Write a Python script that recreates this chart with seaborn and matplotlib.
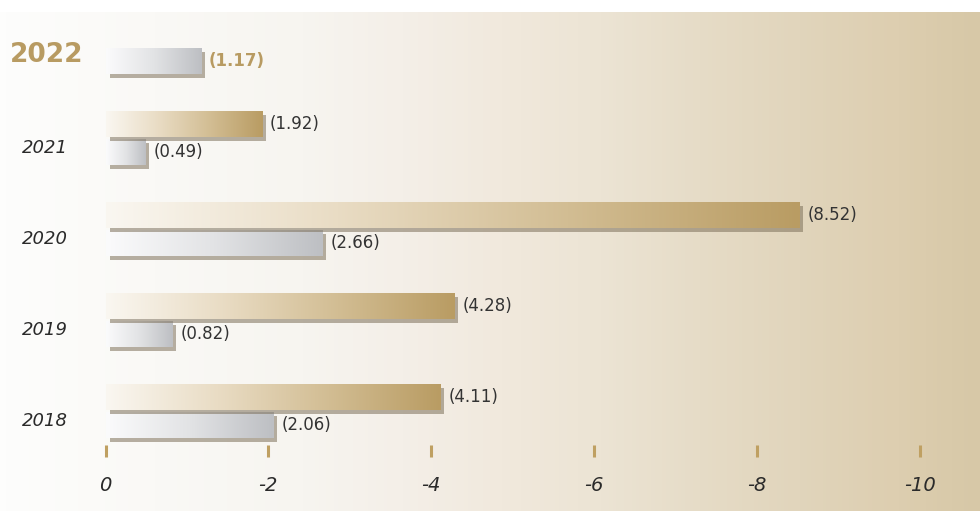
import numpy as np
import pandas as pd
import seaborn as sns
import matplotlib.pyplot as plt
from matplotlib.colors import LinearSegmentedColormap
from matplotlib.patches import Rectangle
from matplotlib.transforms import ScaledTranslation

# data (values shown as negatives, labels in brackets)
years = ['2022', '2021', '2020', '2019', '2018']
gold_vals = [np.nan, -1.92, -8.52, -4.28, -4.11]
grey_vals = [-1.17, -0.49, -2.66, -0.82, -2.06]
tick_vals = [0, -2, -4, -6, -8, -10]
tick_labels = ['0', '-2', '-4', '-6', '-8', '-10']

df = pd.DataFrame({
    'year': years * 2,
    'value': gold_vals + grey_vals,
    'series': ['gold'] * len(years) + ['grey'] * len(years),
})

sns.set_style('white')
plt.rcParams['font.family'] = ['DejaVu Sans']

GOLD = '#b89b62'
bg_cmap = LinearSegmentedColormap.from_list('bg', [
    (0.0, '#fdfdfc'), (0.306, '#f7f5f0'), (0.408, '#f4efe8'), (0.51, '#f1e9dd'),
    (0.612, '#ece4d4'), (0.714, '#e6dcc7'), (0.816, '#e1d5bc'), (0.918, '#ddceb0'),
    (1.0, '#d7c8a7')])
gold_cmap = LinearSegmentedColormap.from_list('gold', ['#faf7f1', '#e9dcc4', '#d2bd93', '#b99c63'])
grey_cmap = LinearSegmentedColormap.from_list('grey', ['#fbfbfc', '#e2e3e5', '#bdbfc3'])

fig = plt.figure(figsize=(9.8, 5.11), dpi=100)
fig.patch.set_facecolor('white')

# background gradient
bg = fig.add_axes([0, 0, 1, 499 / 511])
bg.imshow(np.linspace(0, 1, 256).reshape(1, -1), cmap=bg_cmap, aspect='auto',
          extent=(0, 1, 0, 1), interpolation='bicubic')
bg.axis('off')

ax = fig.add_axes([0, 54 / 511, 1, 457 / 511])
ax.patch.set_alpha(0)

sns.barplot(data=df, x='value', y='year', hue='series', orient='h', order=years,
            hue_order=['gold', 'grey'], palette=['#cccccc', '#cccccc'],
            width=0.6, gap=0.05, legend=False, ax=ax)

shadow_tr = ax.transData + ScaledTranslation(0.04, -0.04, fig.dpi_scale_trans)
cmaps = [gold_cmap, grey_cmap]
zbase = [4, 2]
grad = np.linspace(0, 1, 256).reshape(1, -1)
for i, cont in enumerate(ax.containers):
    for p in cont:
        x0, y0, w, h = p.get_x(), p.get_y(), p.get_width(), p.get_height()
        p.set_facecolor('none')
        p.set_edgecolor('none')
        if np.isnan(w) or w == 0:
            continue
        sh = Rectangle((x0, y0), w, h, transform=shadow_tr, facecolor='#7d705a',
                       alpha=0.55, edgecolor='none', zorder=zbase[i])
        ax.add_patch(sh)
        ax.imshow(grad, cmap=cmaps[i], aspect='auto', extent=(x0, x0 + w, y0 + h, y0),
                  interpolation='bicubic', zorder=zbase[i] + 0.5)

# value labels
for i, cont in enumerate(ax.containers):
    labs = ['' if np.isnan(p.get_width()) else '(%.2f)' % abs(p.get_width()) for p in cont]
    texts = ax.bar_label(cont, labels=labs, padding=6, fontsize=12, color='#333333')
    if i == 1:
        texts[0].set_color(GOLD)
        texts[0].set_fontweight('bold')

# year labels
ytr = ax.get_yaxis_transform()
for k, yr in enumerate(years):
    if k == 0:
        ax.text(46.5 / 980, k + 0.17, yr, transform=ytr, ha='center', va='baseline',
                fontsize=19, fontweight='bold', color=GOLD)
    else:
        ax.text(45 / 980, k + 0.165, yr, transform=ytr, ha='center', va='baseline',
                fontsize=13, fontstyle='italic', color='#2a2a2a')

ax.set_xlim(105.5 / 81.4, -(980 - 105.5) / 81.4)
ax.set_ylim((457 - 47) / 91, -47 / 91)
ax.set_yticks([])
ax.set_xticks(tick_vals)
ax.set_xticklabels(tick_labels, fontsize=14, fontstyle='italic', color='#2a2a2a')
ax.tick_params(axis='x', direction='in', length=8.6, width=2.2, color='#bfa062', pad=14, bottom=True)
ax.set_xlabel('')
ax.set_ylabel('')
for s in ax.spines.values():
    s.set_visible(False)

fig.savefig('out.png', dpi=100)
